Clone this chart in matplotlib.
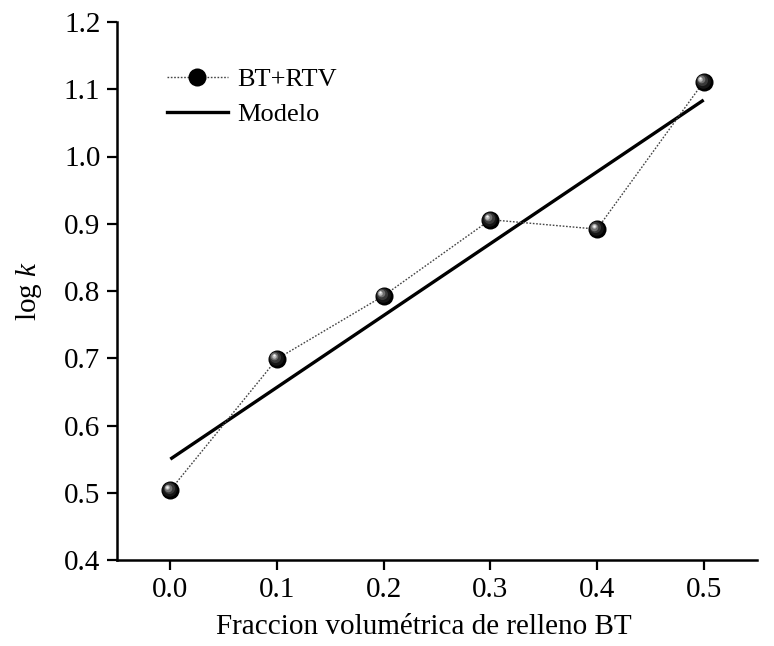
import matplotlib
matplotlib.use("Agg")
import matplotlib.pyplot as plt
import matplotlib.transforms as mtransforms
from matplotlib.lines import Line2D

plt.rcParams['font.family'] = ['Liberation Serif', 'DejaVu Serif']
plt.rcParams['mathtext.fontset'] = 'custom'
plt.rcParams['mathtext.it'] = 'Liberation Serif:italic'
plt.rcParams['mathtext.rm'] = 'Liberation Serif'

x_data = [0.0, 0.1, 0.2, 0.3, 0.4, 0.5]
y_data = [0.504, 0.699, 0.793, 0.906, 0.892, 1.111]
x_model = [0.0, 0.5]
y_model = [0.550, 1.084]
xticks = [0.0, 0.1, 0.2, 0.3, 0.4, 0.5]
yticks = [0.4, 0.5, 0.6, 0.7, 0.8, 0.9, 1.0, 1.1, 1.2]

fig = plt.figure(figsize=(7.74, 6.46), dpi=100)
ax = fig.add_axes([117/774, 86/646, 640/774, 538/646])

ax.plot(x_model, y_model, color='black', lw=2.4, solid_capstyle='butt', zorder=2)
ax.plot(x_data, y_data, color='#444444', lw=1.0, ls=(0, (1.2, 1.2)), zorder=3)

# shaded sphere markers
layers = [(13, '#000000', 0, 0), (10.5, '#161616', -0.6, 0.6), (8, '#383838', -1.2, 1.2),
          (5.5, '#707070', -1.8, 1.8), (3.2, '#bcbcbc', -2.3, 2.3), (1.6, '#f4f4f4', -2.5, 2.5)]
for ms, c, dx, dy in layers:
    off = mtransforms.ScaledTranslation(dx/72, dy/72, fig.dpi_scale_trans)
    ax.plot(x_data, y_data, ls='none', marker='o', ms=ms, mfc=c, mec='none',
            transform=ax.transData + off, zorder=4)

ax.set_xlim(-0.05, 0.55)
ax.set_ylim(0.4, 1.2)
ax.set_xticks(xticks)
ax.set_yticks(yticks)
ax.set_xticklabels([f"{v:.1f}" for v in xticks])
ax.set_yticklabels([f"{v:.1f}" for v in yticks])
for s in ['top', 'right']:
    ax.spines[s].set_visible(False)
for s in ['left', 'bottom']:
    ax.spines[s].set_linewidth(1.8)
ax.tick_params(direction='out', length=7, width=1.6, labelsize=21, pad=5)

ax.set_xlabel('Fraccion volumétrica de relleno BT', fontsize=21)
ax.xaxis.set_label_coords(0.48, -0.1)
ax.set_ylabel(r'log $k$', fontsize=21, labelpad=14)

h1 = Line2D([], [], color='#444444', lw=1.0, ls=(0, (1.2, 1.2)), marker='o', ms=13,
            mfc='black', mec='none')
h2 = Line2D([], [], color='black', lw=2.4)
leg = ax.legend([h1, h2], ['BT+RTV', 'Modelo'], loc='upper left',
                bbox_to_anchor=(0.041, 0.96), frameon=False, fontsize=19,
                handlelength=2.3, handletextpad=0.38, labelspacing=0.45)

fig.savefig('out.png', dpi=100)
